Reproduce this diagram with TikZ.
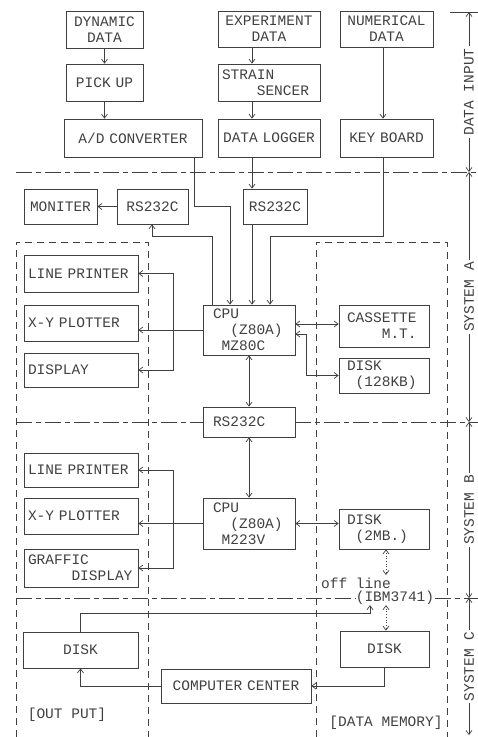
\documentclass[tikz,border=0pt]{standalone}
\usepackage{fontspec}
\setmonofont{Liberation Mono}
\usetikzlibrary{arrows.meta}
\newcommand{\mfont}{\fontsize{14.5}{16}\selectfont\ttfamily}
\tikzset{
  blk/.style={draw, font=\mfont, inner xsep=4pt, inner ysep=0pt, align=center},
  arr/.style={-{Straight Barb[length=4pt,width=6pt]}},
  darr/.style={{Straight Barb[length=4pt,width=6pt]}-{Straight Barb[length=4pt,width=6pt]}},
  sep/.style={dash pattern=on 16pt off 4pt on 5pt off 4pt},
  grp/.style={dash pattern=on 7pt off 5pt},
  dim/.style={font=\mfont, fill=white, rotate=90, inner sep=2pt},
  txt/.style={font=\mfont, inner sep=0pt}
}

\begin{document}
\begin{tikzpicture}[x=1pt, y=-1pt, line width=0.7pt, color=black!75]
    \useasboundingbox (0,0) rectangle (478,737);

    % data input
    \node[blk, text width=69pt, minimum height=37pt] (dyn) at (104.5,29.5) {DYNAMIC\\DATA};
    \node[blk, text width=69pt, minimum height=37pt] (pick) at (104.5,82.5) {PICK UP};
    \node[blk, text width=130pt, minimum height=38pt] (ad) at (133,138) {A/D CONVERTER};
    \node[blk, text width=94pt, minimum height=36pt] (exp) at (269,29) {EXPERIMENT\\DATA};
    \node[blk, text width=94pt, minimum height=37pt, align=left] (str) at (269,82.5) {STRAIN\\\hphantom{XXXX}SENCER};
    \node[blk, text width=94pt, minimum height=38pt] (log) at (269,138) {DATA LOGGER};
    \node[blk, text width=85pt, minimum height=36pt] (num) at (386.5,29) {NUMERICAL\\DATA};
    \node[blk, text width=85pt, minimum height=38pt] (key) at (386.5,138) {KEY BOARD};

    % system A
    \node[blk, text width=65pt, minimum height=35pt] (mon) at (60.5,206.5) {MONITER};
    \node[blk, text width=63pt, minimum height=35pt] (rsa1) at (152.5,206.5) {RS232C};
    \node[blk, text width=56pt, minimum height=35pt] (rsa2) at (275,206.5) {RS232C};
    \node[blk, text width=106pt, minimum height=37pt, align=left] (lpa) at (81,273.5) {LINE PRINTER};
    \node[blk, text width=106pt, minimum height=36pt, align=left] (xya) at (81,323) {X-Y PLOTTER};
    \node[blk, text width=106pt, minimum height=34pt, align=left] (dsa) at (81,370) {DISPLAY};
    \node[blk, inner xsep=10pt, text width=72pt, minimum height=50pt, align=left] (cpua) at (249,330) {CPU\\\hphantom{XX}(Z80A)\\\hphantom{X}MZ80C};
    \node[blk, inner xsep=8pt, text width=74pt, minimum height=42pt, align=left] (cas) at (384,326) {CASSETTE\\\hphantom{XXXX}M.T.};
    \node[blk, inner xsep=8pt, text width=74pt, minimum height=35pt, align=left] (dk1) at (384,375.5) {DISK\\\hphantom{X}(128KB)};

    % system B
    \node[blk, inner xsep=10pt, text width=72pt, minimum height=30pt, align=left] (rsb) at (249,422) {RS232C};
    \node[blk, text width=106pt, minimum height=34pt, align=left] (lpb) at (81,470) {LINE PRINTER};
    \node[blk, text width=106pt, minimum height=36pt, align=left] (xyb) at (81,516) {X-Y PLOTTER};
    \node[blk, text width=106pt, minimum height=38pt, align=left] (gd) at (81,568) {GRAFFIC\\\hphantom{XXXXX}DISPLAY};
    \node[blk, inner xsep=10pt, text width=72pt, minimum height=51pt, align=left] (cpub) at (249,523.5) {CPU\\\hphantom{XX}(Z80A)\\\hphantom{X}M223V};
    \node[blk, inner xsep=8pt, text width=74pt, minimum height=40pt, align=left] (dk2) at (384,529) {DISK\\\hphantom{X}(2MB.)};

    % system C
    \node[blk, text width=107pt, minimum height=36pt] (dko) at (80.5,650) {DISK};
    \node[blk, text width=81pt, minimum height=36pt] (dkm) at (384.5,649) {DISK};
    \node[blk, text width=142pt, minimum height=34pt] (cc) at (236,686) {COMPUTER CENTER};
    \node[txt] (offl) at (356,583) {off line};
    \node[txt] (ibm) at (395,598) {(IBM3741)};
    \node[txt] (outp) at (67,715) {[OUT PUT]};
    \node[txt] (dmem) at (386,723) {[DATA MEMORY]};

    % separating lines and groups
    \draw[sep] (16,172) -- (478,172);
    \draw[sep] (16,422) -- (rsb.west);
    \draw[sep] (rsb.east) -- (478,422);
    \draw[sep] (16,598) -- (ibm.west);
    \draw[sep] (ibm.east) -- (478,598);
    \draw[grp] (16,737) -- (16,242) -- (148,242) -- (148,737);
    \draw[grp] (316,737) -- (316,242) -- (447,242) -- (447,737);

    % right-hand spans
    \draw (450,12) -- (478,12);
    \draw[darr] (469,12) -- (469,172) node[dim, midway] {DATA INPUT};
    \draw[darr] (469,172) -- (469,422) node[dim, midway] {SYSTEM A};
    \draw[darr] (469,422) -- (469,598) node[dim, midway] {SYSTEM B};
    \draw[darr] (469,598) -- (469,735) node[dim, midway] {SYSTEM C};

    % input connections
    \draw[arr] (dyn) -- (pick);
    \draw[arr] (pick) -- (pick |- ad.north);
    \draw[arr] (exp.south -| 252,0) -- (str.north -| 252,0);
    \draw[arr] (str.south -| 252,0) -- (log.north -| 252,0);
    \draw[arr] (log.south -| 252,0) -- (rsa2.north -| 252,0);
    \draw[arr] (rsa2.south -| 252,0) -- (cpua.north -| 252,0);
    \draw[arr] (num.south -| 383,0) -- (key.north -| 383,0);
    \draw[arr] (key.south -| 383,0) |- (270,236) -- (cpua.north -| 270,0);
    \draw[arr] (ad.south -| 194,0) |- (230,206) -- (cpua.north -| 230,0);
    \draw[arr] (cpua.north -| 212,0) |- (152,236) -- (rsa1.south -| 152,0);
    \draw[arr] (rsa1) -- (mon);

    % system A outputs
    \draw[arr] (cpua) -- (xya.east |- cpua);
    \draw[arr] (173,330) |- (lpa.east);
    \draw[arr] (173,330) |- (dsa.east);
    \draw[darr] (cpua.east |- 0,324) -- (cas.west |- 0,324);
    \draw[darr] (cpua.east |- 0,334) -| (306,375.5) -- (dk1.west);
    \draw[darr] (cpua) -- (rsb);

    % system B
    \draw[darr] (rsb) -- (cpub);
    \draw[arr] (cpub) -- (xyb.east |- cpub);
    \draw[arr] (173,523.5) |- (lpb.east);
    \draw[arr] (173,523.5) |- (gd.east);
    \draw[darr] (cpub) -- (dk2.west |- cpub);

    % system C
    \draw[darr, dotted] (dk2.south -| 386,0) -- (386,575);
    \draw[darr, dotted] (ibm.south -| 386,0) -- (dkm.north -| 386,0);
    \draw[arr] (dko) |- (370,613) -- (ibm.south -| 370,0);
    \draw[arr] (cc) -| (dko);
    \draw[arr] (dkm) |- (cc);
\end{tikzpicture}
\end{document}
